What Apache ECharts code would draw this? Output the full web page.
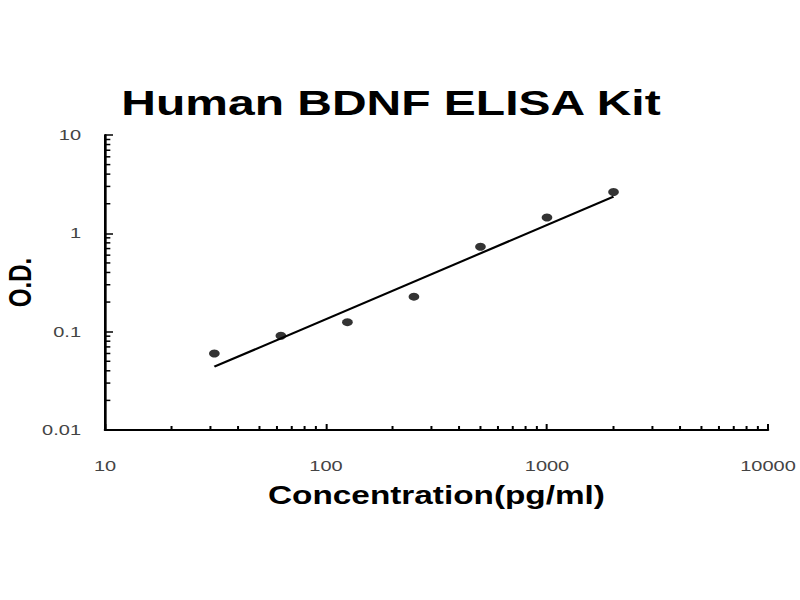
<!DOCTYPE html>
<html>
<head>
<meta charset="utf-8">
<script src="https://cdn.jsdelivr.net/npm/echarts@6/dist/echarts.min.js"></script>
<style>
  html, body { margin: 0; padding: 0; background: #fff; overflow: hidden; }
  /* the reference is stretched horizontally, so draw at 600 wide and stretch */
  #main { width: 600px; height: 600px; transform: scaleX(1.3333); transform-origin: 0 0; }
</style>
</head>
<body>
<div id="main"></div>
<script>
// standard points
const conc = [31.25, 62.5, 125, 250, 500, 1000, 2000];
const od = [0.06, 0.091, 0.125, 0.227, 0.73, 1.45, 2.63];

// power trendline end points
const fitConc = [31.25, 2000];
const fitOd = [0.044, 2.36];

// axis ranges and minor ticks
const xRange = [10, 10000];
const yRange = [0.01, 10];
const xMinor = [20, 30, 40, 50, 60, 70, 80, 90,
                200, 300, 400, 500, 600, 700, 800, 900,
                2000, 3000, 4000, 5000, 6000, 7000, 8000, 9000];
const yMinor = [0.02, 0.03, 0.04, 0.05, 0.06, 0.07, 0.08, 0.09,
                0.2, 0.3, 0.4, 0.5, 0.6, 0.7, 0.8, 0.9,
                2, 3, 4, 5, 6, 7, 8, 9];

const chart = echarts.init(document.getElementById('main'), null, { renderer: 'svg' });

const labelFmt = v => String(+Number(v).toPrecision(3));
const tickStyle = { color: '#000', width: 1.5 };

const options = {
    backgroundColor: '#fff',
    animation: false,
    title: {
        text: 'Human BDNF ELISA Kit',
        left: 86,
        top: 80,
        textStyle: {
            fontFamily: 'Liberation Sans',
            fontWeight: 'bold',
            fontSize: 36,
            color: '#000'
        }
    },
    grid: { left: 78.75, right: 24, top: 135, bottom: 170, outerBoundsMode: 'none', containLabel: false },
    xAxis: {
        type: 'log',
        logBase: 10,
        min: xRange[0],
        max: xRange[1],
        name: 'Concentration(pg/ml)',
        nameLocation: 'middle',
        nameGap: 53,
        nameMoveOverlap: false,
        nameTextStyle: {
            fontFamily: 'Liberation Sans',
            fontWeight: 'bold',
            fontSize: 25,
            color: '#000'
        },
        axisLine: { lineStyle: { color: '#000', width: 2 } },
        axisTick: { inside: true, length: 6, lineStyle: tickStyle },
        axisLabel: {
            margin: 28,
            formatter: labelFmt,
            fontFamily: 'Liberation Sans',
            fontSize: 15,
            color: '#444'
        },
        splitLine: { show: false }
    },
    yAxis: {
        type: 'log',
        logBase: 10,
        min: yRange[0],
        max: yRange[1],
        name: 'O.D.',
        nameLocation: 'middle',
        nameGap: 52,
        nameMoveOverlap: false,
        nameTextStyle: {
            fontFamily: 'Liberation Sans',
            fontWeight: 'bold',
            fontSize: 24,
            color: '#000'
        },
        axisLine: { show: true, lineStyle: { color: '#000', width: 2 } },
        axisTick: { show: true, inside: true, length: 6, lineStyle: tickStyle },
        axisLabel: {
            margin: 18,
            formatter: labelFmt,
            fontFamily: 'Liberation Sans',
            fontSize: 15,
            color: '#444'
        },
        splitLine: { show: false }
    },
    series: [
        {
            // trendline
            type: 'line',
            data: fitConc.map((c, i) => [c, fitOd[i]]),
            symbol: 'none',
            lineStyle: { color: '#000', width: 2 },
            z: 3
        },
        {
            type: 'scatter',
            data: conc.map((c, i) => [c, od[i]]),
            symbol: 'circle',
            symbolSize: 8,
            itemStyle: { color: '#000' },
            z: 4
        },
        {
            // minor ticks on the x axis
            type: 'custom',
            data: xMinor.map(v => [v, yRange[0]]),
            silent: true,
            renderItem: (params, api) => {
                const p = api.coord([api.value(0), api.value(1)]);
                return {
                    type: 'line',
                    shape: { x1: p[0], y1: p[1], x2: p[0], y2: p[1] - 4 },
                    style: { stroke: '#000', lineWidth: 1.5 }
                };
            }
        },
        {
            // minor ticks on the y axis
            type: 'custom',
            data: yMinor.map(v => [xRange[0], v]),
            silent: true,
            renderItem: (params, api) => {
                const p = api.coord([api.value(0), api.value(1)]);
                return {
                    type: 'line',
                    shape: { x1: p[0], y1: p[1], x2: p[0] + 4, y2: p[1] },
                    style: { stroke: '#000', lineWidth: 1.5 }
                };
            }
        }
    ]
};

chart.setOption(options);
</script>
</body>
</html>
